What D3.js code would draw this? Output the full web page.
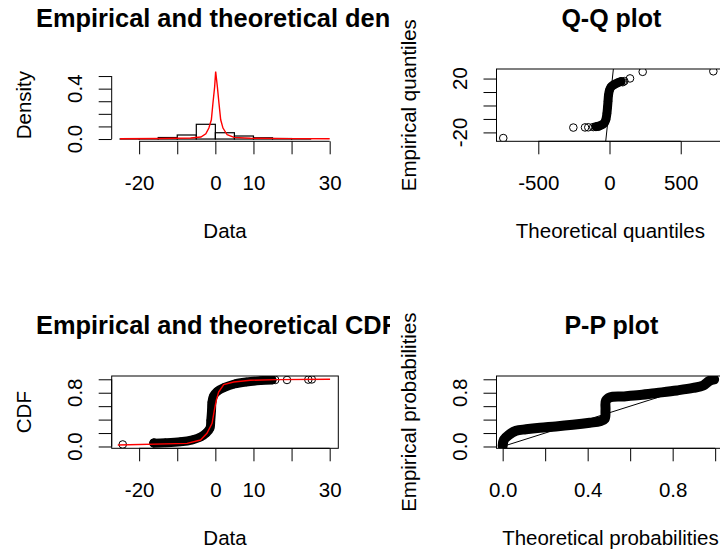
<!DOCTYPE html>
<html>
<head>
<meta charset="utf-8">
<script src="https://cdn.jsdelivr.net/npm/d3@7"></script>
<style>
body{margin:0;background:#fff}
svg{display:block;font-family:"Liberation Sans",Arial,sans-serif}
</style>
</head>
<body>
<svg width="720" height="553"></svg>
<script>
// ---- data ----
// histogram (density panel)
var histBreaks = [-25,-20,-15,-10,-5,0,5,10,15,20,25];
var histDensity = [0.0005,0.002,0.012,0.032,0.117,0.05,0.024,0.01,0.004,0.001];
// fitted density curve [x, density]
var densCurve = [[-25,0.002],[-14.3,0.004],[-6.5,0.008],[-3.8,0.016],[-2.5,0.042],[-1.7,0.087],
  [-1.05,0.153],[-0.63,0.286],[-0.18,0.417],[0.08,0.536],[0.52,0.417],[0.94,0.286],[1.4,0.153],
  [2.0,0.087],[3.1,0.034],[4.9,0.013],[9.2,0.006],[19.7,0.003],[30,0.002]];

// Q-Q: separate points and the dense run [theoretical, empirical]
var qqPoints = [[-746,-24.2],[-254,-16.4],[-172,-16.3],[-149,-16.2],[-114,-16.0],[-79,-15.8],
  [93,17.3],[104,18.1],[144,20.1],[233,25.0],[729,25.4]];
var qqDense = [[-95,-15.7],[-60,-14.7],[-35,-12.8],[-25,-10.2],[-18,-5.7],[-14,-1.3],[-10.5,3.2],
  [-7,7.7],[0,11.4],[10.5,13.7],[31.6,15.5],[60,17.0],[81,17.8]];

// CDF: empirical points, dense run, theoretical curve
var cdfPoints = [[-24.3,0.03],[-16.1,0.06],[15.7,0.99],[18.8,0.99],[24.4,0.995],[25.3,0.998]];
var cdfDense = [[-16.2,0.05],[-13.1,0.055],[-9.2,0.07],[-6.0,0.1],[-3.9,0.14],[-2.4,0.2],[-1.4,0.275],
  [-1.2,0.39],[-1.0,0.54],[-0.9,0.66],[-0.5,0.75],[0.5,0.82],[2.4,0.88],[5.0,0.93],[8.1,0.96],
  [11.8,0.98],[14.9,0.99]];
var cdfTheo = [[-25.6,0.022],[-7.4,0.047],[-3.9,0.096],[-2.2,0.196],[-0.86,0.344],[-0.26,0.54],
  [0.26,0.69],[0.86,0.81],[2.2,0.92],[4.8,0.96],[9.2,0.985],[16.2,0.995],[30.1,1.0]];

// P-P dense run [theoretical, empirical]
var ppDense = [[0.0,0.01],[0.006,0.10],[0.03,0.175],[0.063,0.234],[0.11,0.256],[0.176,0.279],
  [0.25,0.298],[0.33,0.323],[0.41,0.353],[0.458,0.375],[0.48,0.41],[0.484,0.545],[0.486,0.68],
  [0.505,0.73],[0.566,0.745],[0.646,0.767],[0.726,0.797],[0.82,0.834],[0.896,0.871],[0.944,0.908],
  [0.972,0.975],[0.995,0.998]];

// ticks
var dataTicks = [-20,-10,0,10,20,30], dataLabels = ["-20","","0","10","","30"];
var densTicks = [0,0.1,0.2,0.3,0.4,0.5], densLabels = ["0.0","","","","0.4",""];
var qqXTicks = [-500,0,500], qqXLabels = ["-500","0","500"];
var qqYTicks = [-20,-10,0,10,20], qqYLabels = ["-20","","","","20"];
var probTicks = [0,0.2,0.4,0.6,0.8,1], probLabels = ["0.0","","0.4","","0.8",""];
var cdfYLabels = ["0.0","","","","0.8",""];

// ---- layout ----
var svg = d3.select("svg");
var cols = [[111.7,338.3],[496.5,724.3]];
var rows = [[69,141.3],[376,448.3]];
var R = 3.8, FS = 20.5;

var defs = svg.append("defs");
defs.append("clipPath").attr("id","leftcol").append("rect").attr("x",0).attr("y",0).attr("width",390).attr("height",553);

function panel(p){
  var c = cols[p.col], r = rows[p.row];
  var x = d3.scaleLinear().domain(p.xdom).range(c);
  var y = d3.scaleLinear().domain(p.ydom).range([r[1],r[0]]);
  var g = svg.append("g");
  var id = "clip"+p.col+p.row;
  defs.append("clipPath").attr("id",id).append("rect")
    .attr("x",c[0]).attr("y",r[0]).attr("width",c[1]-c[0]).attr("height",r[1]-r[0]);
  var plot = g.append("g").attr("clip-path","url(#"+id+")");

  // x axis
  var ax = g.append("g").attr("transform","translate(0,"+r[1]+")")
    .call(d3.axisBottom(x).tickValues(p.xticks).tickSize(13).tickPadding(21)
      .tickFormat(function(d,i){return p.xlabels[i];}));
  ax.attr("font-size",FS).attr("font-family",null);
  ax.select(".domain").remove();
  ax.append("line").attr("x1",x(p.xticks[0])).attr("x2",x(p.xticks[p.xticks.length-1])).attr("stroke","#000");
  // y axis
  var ay = g.append("g").attr("transform","translate("+c[0]+",0)")
    .call(d3.axisLeft(y).tickValues(p.yticks).tickSize(13).tickFormat(""));
  ay.select(".domain").remove();
  ay.append("line").attr("y1",y(p.yticks[0])).attr("y2",y(p.yticks[p.yticks.length-1])).attr("stroke","#000");
  g.selectAll(null).data(p.yticks).enter().append("text")
    .attr("transform",function(d){return "translate("+(c[0]-29.5)+","+y(d)+") rotate(-90)";})
    .attr("text-anchor","middle").attr("font-size",FS)
    .text(function(d,i){return p.ylabels[i];});

  if(p.box){
    g.append("rect").attr("x",c[0]).attr("y",r[0]).attr("width",c[1]-c[0]).attr("height",r[1]-r[0])
      .attr("fill","none").attr("stroke","#000");
  }
  // titles (left column title runs into the next panel and is cut there)
  if(p.col===0){
    g.append("g").attr("clip-path","url(#leftcol)").append("text")
      .attr("x",36).attr("y",r[0]-42).attr("font-size",25.4).attr("font-weight","bold").text(p.title);
  } else {
    g.append("text").attr("x",(c[0]+c[1])/2+1).attr("y",r[0]-42).attr("text-anchor","middle")
      .attr("font-size",25).attr("font-weight","bold").text(p.title);
  }
  g.append("text").attr("x",(c[0]+c[1])/2).attr("y",r[1]+97).attr("text-anchor","middle")
    .attr("font-size",FS).text(p.xlab);
  g.append("text").attr("transform","translate("+(c[0]-81)+","+((r[0]+r[1])/2)+") rotate(-90)")
    .attr("text-anchor","middle").attr("font-size",FS).text(p.ylab);
  return {x:x,y:y,plot:plot};
}

function dense(pl,data,w){
  pl.plot.append("path").datum(data)
    .attr("d",d3.line().x(function(d){return pl.x(d[0]);}).y(function(d){return pl.y(d[1]);}).curve(d3.curveCatmullRom))
    .attr("fill","none").attr("stroke","#000").attr("stroke-width",w)
    .attr("stroke-linecap","round").attr("stroke-linejoin","round");
}
function circles(pl,data){
  pl.plot.selectAll(null).data(data).enter().append("circle")
    .attr("cx",function(d){return pl.x(d[0]);}).attr("cy",function(d){return pl.y(d[1]);})
    .attr("r",R).attr("fill","none").attr("stroke","#000").attr("stroke-width",1);
}
function refLine(pl,data,color,w){
  pl.plot.append("path").datum(data)
    .attr("d",d3.line().x(function(d){return pl.x(d[0]);}).y(function(d){return pl.y(d[1]);}))
    .attr("fill","none").attr("stroke",color).attr("stroke-width",w);
}

// 1 density
var p1 = panel({col:0,row:0,xdom:[-27.2,32.26],ydom:[-0.018,0.556],xticks:dataTicks,xlabels:dataLabels,
  yticks:densTicks,ylabels:densLabels,box:false,title:"Empirical and theoretical density",xlab:"Data",ylab:"Density"});
p1.plot.selectAll(null).data(histDensity).enter().append("rect")
  .attr("x",function(d,i){return p1.x(histBreaks[i]);})
  .attr("width",function(d,i){return p1.x(histBreaks[i+1])-p1.x(histBreaks[i]);})
  .attr("y",function(d){return p1.y(d);})
  .attr("height",function(d){return p1.y(0)-p1.y(d);})
  .attr("fill","none").attr("stroke","#000").attr("stroke-width",1.2);
refLine(p1,densCurve,"#ff0000",1.4);

// 2 Q-Q
var p2 = panel({col:1,row:0,xdom:[-793.5,806],ydom:[-26.6,27.1],xticks:qqXTicks,xlabels:qqXLabels,
  yticks:qqYTicks,ylabels:qqYLabels,box:true,title:"Q-Q plot",xlab:"Theoretical quantiles",ylab:"Empirical quantiles"});
dense(p2,qqDense,9);
circles(p2,qqDense.concat(qqPoints));
refLine(p2,[[-30,-30],[30,30]],"#000",1);

// 3 CDF
var p3 = panel({col:0,row:1,xdom:[-27.2,32.26],ydom:[-0.027,1.049],xticks:dataTicks,xlabels:dataLabels,
  yticks:probTicks,ylabels:cdfYLabels,box:true,title:"Empirical and theoretical CDFs",xlab:"Data",ylab:"CDF"});
dense(p3,cdfDense,9);
circles(p3,cdfDense.concat(cdfPoints));
refLine(p3,cdfTheo,"#ff0000",1.4);

// 4 P-P
var p4 = panel({col:1,row:1,xdom:[-0.029,1.043],ydom:[-0.027,1.049],xticks:probTicks,xlabels:probLabels,
  yticks:probTicks,ylabels:cdfYLabels,box:true,title:"P-P plot",xlab:"Theoretical probabilities",ylab:"Empirical probabilities"});
dense(p4,ppDense,10);
circles(p4,ppDense);
refLine(p4,[[0,0],[1,1]],"#000",1);
</script>
</body>
</html>
